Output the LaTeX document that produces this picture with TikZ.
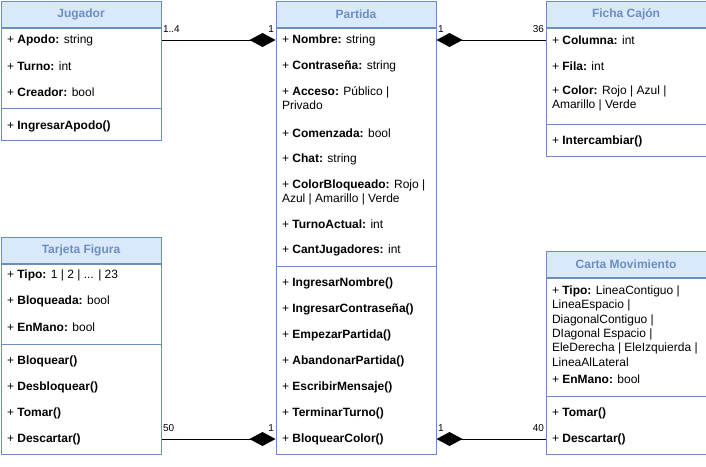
\documentclass[tikz,border=0pt]{standalone}
\usepackage{fontspec}
\setmainfont{Liberation Sans}
\usetikzlibrary{positioning,arrows.meta}
\definecolor{umlfill}{HTML}{DAE8FC}
\definecolor{umlline}{HTML}{6C8EBF}

\begin{document}
\begin{tikzpicture}[x=1pt, y=1pt, line width=1pt,
    every node/.style={font=\fontsize{12}{14}\selectfont},
    head/.style={draw=umlline, fill=umlfill, minimum width=160pt, minimum height=26pt,
        anchor=north west, inner sep=0pt, text=umlline, font=\fontsize{12}{14}\selectfont\bfseries},
    body/.style={draw=umlline, fill=white, minimum width=160pt, inner sep=0pt},
    item/.style={anchor=west, inner sep=0pt, align=left},
    sep/.style={draw=umlline},
    comp/.style={-{Diamond[length=26pt, width=14pt]}},
    mult/.style={font=\fontsize{10}{12}\selectfont, inner sep=1pt, yshift=6pt}]
    \useasboundingbox (0,0) rectangle (706,-466);

    % Jugador
    \node[head] (jugador) at (0.5,-0.5) {Jugador};
    \node[body, minimum height=112pt, below=0pt of jugador] (jugador-body) {};
    \node[item] (jug-apodo) at (6.5,-40) {+ \textbf{Apodo:} string};
    \node[item] (jug-turno) at (6.5,-66) {+ \textbf{Turno:} int};
    \node[item] (jug-creador) at (6.5,-92) {+ \textbf{Creador:} bool};
    \draw[sep] (0.5,-108) -- (160.5,-108);
    \node[item] (jug-ingresar) at (6.5,-126) {+ \textbf{IngresarApodo()}};

    % Partida
    \node[head] (partida) at (275.5,-0.5) {Partida};
    \node[body, minimum height=426pt, below=0pt of partida] (partida-body) {};
    \node[item] (par-nombre) at (281.5,-40) {+ \textbf{Nombre:} string};
    \node[item] (par-contra) at (281.5,-66) {+ \textbf{Contraseña:} string};
    \node[item] (par-acceso) at (281.5,-98.5) {+ \textbf{Acceso:} Público |\\Privado};
    \node[item] (par-comenzada) at (281.5,-133) {+ \textbf{Comenzada:} bool};
    \node[item] (par-chat) at (281.5,-159) {+ \textbf{Chat:} string};
    \node[item] (par-color) at (281.5,-192) {+ \textbf{ColorBloqueado:} Rojo |\\Azul | Amarillo | Verde};
    \node[item] (par-turno) at (281.5,-224) {+ \textbf{TurnoActual:} int};
    \node[item] (par-cant) at (281.5,-250) {+ \textbf{CantJugadores:} int};
    \draw[sep] (275.5,-266) -- (435.5,-266);
    \node[item] (par-m1) at (281.5,-283) {+ \textbf{IngresarNombre()}};
    \node[item] (par-m2) at (281.5,-309) {+ \textbf{IngresarContraseña()}};
    \node[item] (par-m3) at (281.5,-335) {+ \textbf{EmpezarPartida()}};
    \node[item] (par-m4) at (281.5,-361) {+ \textbf{AbandonarPartida()}};
    \node[item] (par-m5) at (281.5,-387) {+ \textbf{EscribirMensaje()}};
    \node[item] (par-m6) at (281.5,-413) {+ \textbf{TerminarTurno()}};
    \node[item] (par-m7) at (281.5,-439) {+ \textbf{BloquearColor()}};

    % Ficha Cajon
    \node[head] (ficha) at (545.5,-0.5) {Ficha Cajón};
    \node[body, minimum height=128pt, below=0pt of ficha] (ficha-body) {};
    \node[item] (fic-columna) at (551.5,-40) {+ \textbf{Columna:} int};
    \node[item] (fic-fila) at (551.5,-66) {+ \textbf{Fila:} int};
    \node[item] (fic-color) at (551.5,-98.5) {+ \textbf{Color:} Rojo | Azul |\\Amarillo | Verde};
    \draw[sep] (545.5,-124) -- (705.5,-124);
    \node[item] (fic-inter) at (551.5,-141) {+ \textbf{Intercambiar()}};

    % Tarjeta Figura
    \node[head] (tarjeta) at (0.5,-236.5) {Tarjeta Figura};
    \node[body, minimum height=190pt, below=0pt of tarjeta] (tarjeta-body) {};
    \node[item] (tar-tipo) at (6.5,-275) {+ \textbf{Tipo:} 1 | 2 | ... | 23};
    \node[item] (tar-bloq) at (6.5,-301) {+ \textbf{Bloqueada:} bool};
    \node[item] (tar-mano) at (6.5,-327) {+ \textbf{EnMano:} bool};
    \draw[sep] (0.5,-344) -- (160.5,-344);
    \node[item] (tar-m1) at (6.5,-361) {+ \textbf{Bloquear()}};
    \node[item] (tar-m2) at (6.5,-387) {+ \textbf{Desbloquear()}};
    \node[item] (tar-m3) at (6.5,-413) {+ \textbf{Tomar()}};
    \node[item] (tar-m4) at (6.5,-439) {+ \textbf{Descartar()}};

    % Carta Movimiento
    \node[head] (carta) at (545.5,-250.5) {Carta Movimiento};
    \node[body, minimum height=176pt, below=0pt of carta] (carta-body) {};
    \node[item, font=\fontsize{12}{14.4}\selectfont] (car-tipo) at (551.5,-326)
        {+ \textbf{Tipo:} LineaContiguo |\\LineaEspacio |\\DiagonalContiguo |\\DIagonal Espacio |\\EleDerecha | EleIzquierda |\\LineaAlLateral};
    \node[item] (car-mano) at (551.5,-379) {+ \textbf{EnMano:} bool};
    \draw[sep] (545.5,-396) -- (705.5,-396);
    \node[item] (car-m1) at (551.5,-413) {+ \textbf{Tomar()}};
    \node[item] (car-m2) at (551.5,-439) {+ \textbf{Descartar()}};

    % composiciones
    \draw[comp] (jugador-body.east |- jug-apodo) -- (partida-body.west |- jug-apodo)
        node[mult, pos=0, anchor=south west] (m-jug) {1..4}
        node[mult, pos=1, anchor=south east] (m-par1) {1};
    \draw[comp] (ficha-body.west |- fic-columna) -- (partida-body.east |- fic-columna)
        node[mult, pos=0, anchor=south east] (m-fic) {36}
        node[mult, pos=1, anchor=south west] (m-par2) {1};
    \draw[comp] (tarjeta-body.east |- tar-m4) -- (partida-body.west |- tar-m4)
        node[mult, pos=0, anchor=south west] (m-tar) {50}
        node[mult, pos=1, anchor=south east] (m-par3) {1};
    \draw[comp] (carta-body.west |- car-m2) -- (partida-body.east |- car-m2)
        node[mult, pos=0, anchor=south east] (m-car) {40}
        node[mult, pos=1, anchor=south west] (m-par4) {1};
\end{tikzpicture}
\end{document}
